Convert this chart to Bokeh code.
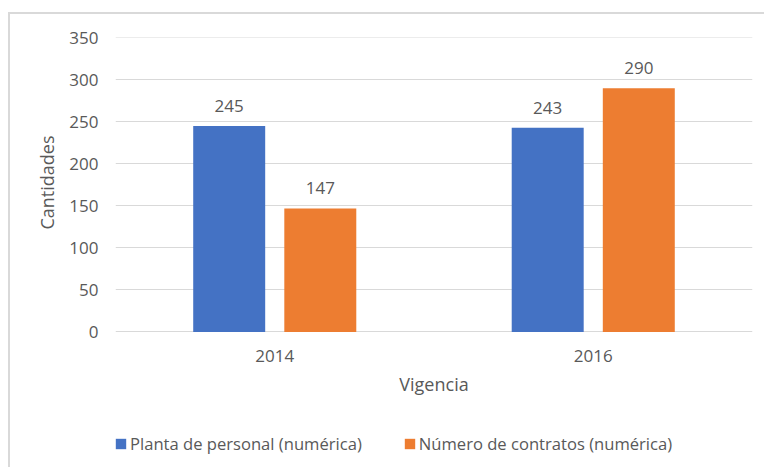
from bokeh.plotting import figure
from bokeh.models import (ColumnDataSource, FactorRange, Range1d, Legend, LegendItem, LabelSet,
                          Label, Title, FixedTicker)
from bokeh.transform import dodge
from bokeh.core.properties import value
from bokeh.embed import file_html
from bokeh.resources import INLINE

years = ["2014", "2016"]
planta = [245, 243]
contratos = [147, 290]
series_names = ["Planta de personal (numérica)", "Número de contratos (numérica)"]
y_ticks = [0, 50, 100, 150, 200, 250, 300, 350]
x_title = "Vigencia"
y_title = "Cantidades"

BLUE = "#4472C4"
ORANGE = "#ED7D31"
GRID = "#D9D9D9"
TXT = "#595959"
FONT = "Open Sans"

src = ColumnDataSource(dict(
    cat=years, planta=planta, contratos=contratos,
    planta_lbl=[str(v) for v in planta], contratos_lbl=[str(v) for v in contratos],
    base=[0] * len(years),
))

# frame extends below the value axis so that the legend can sit inside it
p = figure(
    x_range=FactorRange(*years, range_padding=0),
    y_range=Range1d(-161.4, 350.5),
    frame_width=637, frame_height=430,
    min_border_left=105, min_border_right=12, min_border_top=23, min_border_bottom=0,
    x_axis_location=None,
    output_backend="svg", toolbar_location=None,
    styles={"border-left": "2px solid #D9D9D9", "border-top": "2px solid #D9D9D9",
            "margin-top": "12px", "margin-left": "8px"},
)
p.outline_line_color = None
p.background_fill_color = "white"
p.border_fill_color = "white"

off = 0.143
w = 0.226
r1 = p.vbar(x=dodge("cat", -off, range=p.x_range), top="planta", width=w, source=src,
            fill_color=BLUE, line_color=None)
r2 = p.vbar(x=dodge("cat", off, range=p.x_range), top="contratos", width=w, source=src,
            fill_color=ORANGE, line_color=None)

for field, lbl, o in (("planta", "planta_lbl", -off), ("contratos", "contratos_lbl", off)):
    p.add_layout(LabelSet(x=dodge("cat", o, range=p.x_range), y=field, text=lbl, source=src,
                          text_align="center", text_baseline="middle", y_offset=20,
                          text_font=value(FONT), text_font_size=value("17px"), text_color=TXT))

# category labels under the zero line
p.add_layout(LabelSet(x="cat", y="base", text="cat", source=src,
                      text_align="center", text_baseline="middle", y_offset=-24,
                      text_font=value(FONT), text_font_size=value("17px"), text_color=TXT))
# x axis title (centre of the factor range)
p.add_layout(Label(x=1, y=0, y_offset=-52, text=x_title, text_align="center",
                   text_baseline="middle", text_font=FONT, text_font_size="18px",
                   text_color=TXT))

# y axis
p.yaxis.ticker = FixedTicker(ticks=y_ticks)
p.yaxis.axis_line_color = None
p.yaxis.major_tick_line_color = None
p.yaxis.minor_tick_line_color = None
p.yaxis.major_tick_out = 0
p.yaxis.major_tick_in = 0
p.yaxis.major_label_standoff = 17
p.yaxis.major_label_text_font = FONT
p.yaxis.major_label_text_font_size = "17px"
p.yaxis.major_label_text_color = TXT

p.add_layout(Title(text=y_title, align="right", offset=98, standoff=16,
                   vertical_align="bottom",
                   text_font=FONT, text_font_size="18px", text_font_style="normal",
                   text_color=TXT), "left")

p.xgrid.grid_line_color = None
p.ygrid.grid_line_color = GRID
p.ygrid.grid_line_width = 1

legend = Legend(
    items=[LegendItem(label=series_names[0], renderers=[r1]),
           LegendItem(label=series_names[1], renderers=[r2])],
    orientation="horizontal", location=(-1, 12),
    glyph_width=13, glyph_height=13, label_standoff=3, spacing=41,
    padding=0, margin=0, border_line_color=None, background_fill_alpha=0,
    label_text_font=FONT, label_text_font_size="16.6px", label_text_color=TXT,
    label_height=20,
)
p.add_layout(legend, "center")

open("out.html", "w").write(file_html(p, INLINE))
